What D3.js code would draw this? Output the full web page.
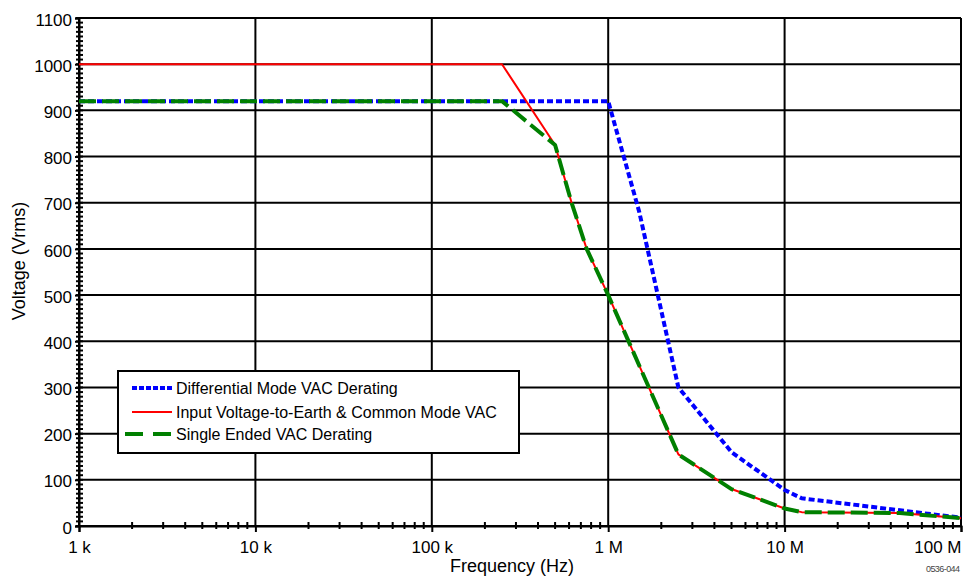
<!DOCTYPE html>
<html>
<head>
<meta charset="utf-8">
<script src="https://cdn.jsdelivr.net/npm/d3@7/dist/d3.min.js"></script>
<style>
  html, body { margin: 0; padding: 0; background: #fff; }
  svg { display: block; font-family: "Liberation Sans", Arial, sans-serif; }
</style>
</head>
<body>
<svg id="chart" width="963" height="586"></svg>
<script>
// ---- data ----
const xTickValues = [1e3, 1e4, 1e5, 1e6, 1e7, 1e8];
const xTickLabels = ["1 k", "10 k", "100 k", "1 M", "10 M", "100 M"];
const yTickValues = [0, 100, 200, 300, 400, 500, 600, 700, 800, 900, 1000, 1100];

const diffFreq = [1e3, 1e6, 1.5e6, 2.5e6, 5e6, 1e7, 1.25e7, 7e7, 1e8];
const diffVolt = [920, 920, 680, 300, 160, 78, 60, 25, 18];

const commonFreq = [1e3, 2.5e5, 5e5, 6.2e5, 7.55e5, 1e6, 2.5e6, 5e6, 1e7, 1.25e7, 4.5e7, 1e8];
const commonVolt = [1000, 1000, 825, 700, 600, 500, 155, 80, 38, 30, 28, 17];

const singleFreq = [1e3, 2.5e5, 5e5, 6.2e5, 7.55e5, 1e6, 2.5e6, 5e6, 1e7, 1.25e7, 4.5e7, 1e8];
const singleVolt = [920, 920, 825, 700, 600, 500, 155, 80, 38, 30, 28, 17];

const seriesNames = ["Differential Mode VAC Derating",
                     "Input Voltage-to-Earth & Common Mode VAC",
                     "Single Ended VAC Derating"];

// ---- layout ----
(function () {
const svg = d3.select("#chart");
const pL = 79, pR = 961, pT = 18, pB = 526;
const x = d3.scaleLog().domain([1e3, 1e8]).range([pL, pR]);
const y = d3.scaleLinear().domain([0, 1100]).range([pB, pT]);

// minor ticks
const xMinor = [];
for (let d = 1e3; d < 1e8; d *= 10) for (let k = 2; k <= 9; k++) xMinor.push(d * k);
const yMinor = d3.range(0, 1101, 10);

// grid
const grid = svg.append("g").attr("stroke", "#000").attr("stroke-width", 2);
grid.selectAll(".h").data(yTickValues).join("line")
  .attr("x1", pL).attr("x2", pR)
  .attr("y1", d => y(d)).attr("y2", d => y(d));
grid.selectAll(".v").data(xTickValues).join("line")
  .attr("x1", d => x(d)).attr("x2", d => x(d))
  .attr("y1", pT).attr("y2", pB);

// minor ticks (crossing axes)
const ticks = svg.append("g").attr("stroke", "#000").attr("stroke-width", 2);
ticks.selectAll(".ym").data(yMinor).join("line")
  .attr("x1", pL - 3).attr("x2", pL + 4)
  .attr("y1", d => y(d)).attr("y2", d => y(d));
ticks.selectAll(".xm").data(xMinor).join("line")
  .attr("x1", d => x(d)).attr("x2", d => x(d))
  .attr("y1", pB - 4).attr("y2", pB + 3);

// axes via d3 (labels + major ticks)
const yAxis = d3.axisLeft(y).tickValues(yTickValues).tickSize(4).tickPadding(3).tickFormat(d3.format("d"));
const gy = svg.append("g").attr("transform", `translate(${pL},0)`).call(yAxis);
gy.select(".domain").attr("stroke", "#000").attr("stroke-width", 2);
gy.selectAll(".tick line").attr("stroke", "#000").attr("stroke-width", 2);
gy.selectAll(".tick text").attr("font-size", 17).attr("fill", "#000")
  .attr("font-family", "Liberation Sans, Arial, sans-serif").attr("dy", "0.42em");

const xAxis = d3.axisBottom(x).tickValues(xTickValues).tickSize(6).tickPadding(9)
  .tickFormat((d, i) => xTickLabels[i]);
const gx = svg.append("g").attr("transform", `translate(0,${pB})`).call(xAxis);
gx.select(".domain").attr("stroke", "#000").attr("stroke-width", 2);
gx.selectAll(".tick line").attr("stroke", "#000").attr("stroke-width", 2);
gx.selectAll(".tick text").attr("font-size", 17).attr("fill", "#000")
  .attr("font-family", "Liberation Sans, Arial, sans-serif")
  .attr("text-anchor", (d, i) => i === xTickValues.length - 1 ? "end" : "middle");

// lines
const line = d3.line().x(d => x(d[0])).y(d => y(d[1]));
const plot = svg.append("g").attr("fill", "none").attr("stroke-linejoin", "round");
plot.append("path").datum(d3.zip(diffFreq, diffVolt)).attr("d", line)
  .attr("stroke", "#0000ff").attr("stroke-width", 4).attr("stroke-dasharray", "6,3");
plot.append("path").datum(d3.zip(commonFreq, commonVolt)).attr("d", line)
  .attr("stroke", "#ff0000").attr("stroke-width", 2);
plot.append("path").datum(d3.zip(singleFreq, singleVolt)).attr("d", line)
  .attr("stroke", "#008000").attr("stroke-width", 4).attr("stroke-dasharray", "17,6");

// legend
const lg = svg.append("g");
lg.append("rect").attr("x", 118).attr("y", 371).attr("width", 401).attr("height", 82)
  .attr("fill", "#fff").attr("stroke", "#000").attr("stroke-width", 2);
const legendStyles = [
  {stroke: "#0000ff", w: 4, dash: "5,2", x1: 132, x2: 172, y: 388},
  {stroke: "#ff0000", w: 2, dash: null, x1: 132, x2: 172, y: 412},
  {stroke: "#008000", w: 4, dash: "18,10", x1: 125, x2: 171, y: 434}
];
legendStyles.forEach((s, i) => {
  lg.append("line").attr("x1", s.x1).attr("x2", s.x2).attr("y1", s.y).attr("y2", s.y)
    .attr("stroke", s.stroke).attr("stroke-width", s.w).attr("stroke-dasharray", s.dash);
  lg.append("text").attr("x", 176).attr("y", s.y + 6).attr("font-size", 16)
    .attr("fill", "#000").text(seriesNames[i]);
});

// axis titles
svg.append("text").attr("x", 512).attr("y", 572).attr("text-anchor", "middle")
  .attr("font-size", 18).attr("fill", "#000").text("Frequency (Hz)");
svg.append("text").attr("transform", "translate(25,261) rotate(-90)")
  .attr("text-anchor", "middle").attr("font-size", 18).attr("fill", "#000").text("Voltage (Vrms)");
svg.append("text").attr("x", 960).attr("y", 572).attr("text-anchor", "end")
  .attr("font-size", 9).attr("fill", "#444").attr("textLength", 34).text("0536-044");
})();
</script>
</body>
</html>
